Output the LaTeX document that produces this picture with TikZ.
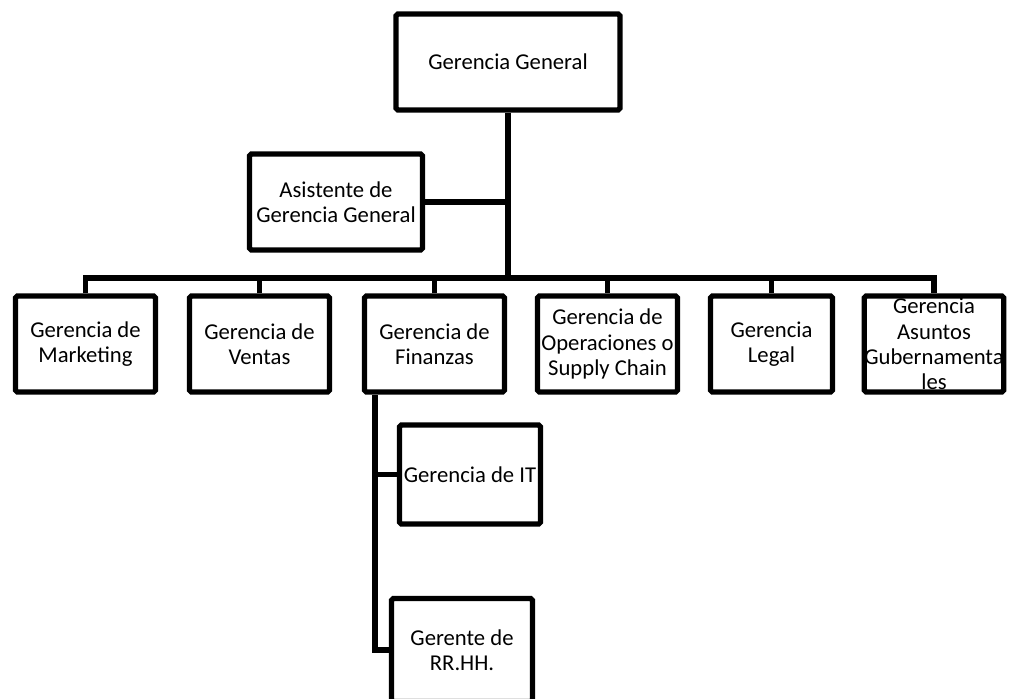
\documentclass[tikz,border=0pt]{standalone}
\usepackage{fontspec}
\setmainfont{Carlito}
\usepackage{tikz}

\begin{document}
\begin{tikzpicture}[x=0.02cm,y=-0.02cm,line width=3pt,
	unit/.style={draw,rounded corners=1pt,inner sep=1pt,align=center,
		minimum height=1.92cm,font=\fontsize{12.9}{14.4}\selectfont}]
	\useasboundingbox (0,0) rectangle (1009,698);
	\node[unit,minimum width=4.48cm] (gg) at (508,62) {Gerencia General};
	\node[unit,minimum width=3.46cm] (asis) at (336,202) {Asistente de\\Gerencia General};
	\node[unit,minimum width=2.80cm] (mkt) at (85.5,344) {Gerencia de\\Marketing};
	\node[unit,minimum width=2.80cm] (ven) at (259.5,344) {Gerencia de\\Ventas};
	\node[unit,minimum width=2.80cm] (fin) at (434.5,344) {Gerencia de\\Finanzas};
	\node[unit,minimum width=2.80cm] (ope) at (607.5,344) {Gerencia de\\Operaciones o\\Supply Chain};
	\node[unit,minimum width=2.44cm] (leg) at (771.5,344) {Gerencia\\Legal};
	\node[unit,minimum width=2.74cm,inner sep=0pt] (gub) at (934,344) {Gerencia\\Asuntos\\Gubernamenta\\les};
	\node[unit,minimum width=2.82cm,minimum height=1.98cm] (it) at (470,474.5) {Gerencia de IT};
	\node[unit,minimum width=2.82cm,minimum height=2.06cm] (rrhh) at (462,650) {Gerente de\\RR.HH.};
	\coordinate (bus) at (508,278);
	\coordinate (ft) at (375,395);
	% ramas
	\draw (gg.south) -- (bus);
	\draw (asis.east) -- (asis.east -| bus);
	\draw (mkt.north) |- (bus) -| (gub.north);
	\foreach \n in {ven,fin,ope,leg}
		\draw (\n.north) -- (\n.north |- bus);
	\draw (ft) |- (rrhh.west);
	\draw (it.west) -- (it.west -| ft);
\end{tikzpicture}
\end{document}
